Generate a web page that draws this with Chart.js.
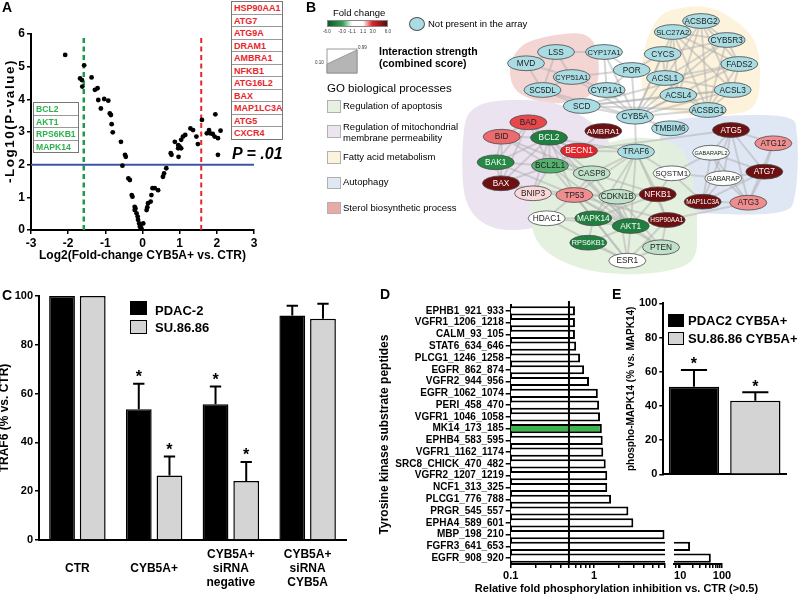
<!DOCTYPE html>
<html><head><meta charset="utf-8"><title>CYB5A figure</title>
<script src="https://cdn.jsdelivr.net/npm/chart.js@4.4.1/dist/chart.umd.min.js"></script>
<style>
html,body{margin:0;padding:0;background:#fff;}
#page{position:relative;width:800px;height:595px;overflow:hidden;background:#fff;font-family:"Liberation Sans",Arial,Helvetica,sans-serif;color:#000;}
#page canvas{position:absolute;}
.tx{position:absolute;white-space:nowrap;line-height:1;}
.pl{font-weight:bold;font-size:14px;}
.genebox{position:absolute;border:1px solid #777;background:#fff;box-sizing:border-box;}
.genebox div{height:11.5px;line-height:12px;border-bottom:1px solid #999;font-weight:bold;padding-left:2px;white-space:nowrap;overflow:hidden;}
.genebox div:last-child{border-bottom:none;}
.sw{position:absolute;box-sizing:border-box;border:1px solid #b0b0b0;width:14px;height:12.5px;left:327px;}
.box{position:absolute;box-sizing:border-box;}
.tiny{position:absolute;font-size:4.5px;line-height:1;transform:translateX(-50%);color:#333;white-space:nowrap;}
.rot{position:absolute;width:0;height:0;}
.rot span{position:absolute;left:0;top:0;white-space:nowrap;line-height:1;transform:translate(-50%,-50%) rotate(-90deg);}
</style></head>
<body><div id="page">
<canvas id="cA" width="275" height="270" style="left:0px;top:0px"></canvas>
<canvas id="cB" width="345" height="280" style="left:455px;top:0px"></canvas>
<canvas id="cC" width="360" height="310" style="left:0px;top:285px"></canvas>
<canvas id="cD1" width="300" height="305" style="left:370px;top:290px"></canvas>
<canvas id="cD2" width="70" height="305" style="left:668px;top:290px"></canvas>
<canvas id="cE" width="200" height="195" style="left:600px;top:290px"></canvas>

<!-- panel letters -->
<div class="tx pl" style="left:2px;top:0px">A</div>
<div class="tx pl" style="left:306px;top:0px">B</div>
<div class="tx pl" style="left:2px;top:288px">C</div>
<div class="tx pl" style="left:380px;top:287px">D</div>
<div class="tx pl" style="left:612px;top:287px">E</div>

<!-- panel A annotations -->
<div class="rot" style="left:10px;top:121px;"><span style="font-size:13.5px;font-weight:bold;letter-spacing:1.5px;">-Log10(P-value)</span></div>
<div id="upBox" class="genebox" style="left:231px;top:1px;width:52px;"></div>
<div id="downBox" class="genebox" style="left:33px;top:102px;width:46px;"></div>
<div class="tx" style="left:232px;top:146px;font-size:16px;font-weight:bold;font-style:italic;">P = .01</div>

<!-- panel B legend -->
<div class="tx" style="left:333px;top:7.5px;font-size:9.5px;">Fold change</div>
<div class="box" style="left:327px;top:20px;width:61px;height:7px;border:0.5px solid #888;background:linear-gradient(to right,#0b5a2b 0%,#35a153 25%,#ffffff 40.8%,#ffffff 59.2%,#e3262b 75%,#5a0d0d 100%);"></div>
<div id="foldTicks"></div>
<div class="box" style="left:409px;top:17px;width:16px;height:14px;border:1px solid #555;border-radius:50%;background:#a9dce3;"></div>
<div class="tx" style="left:428px;top:19.3px;font-size:9.5px;">Not present in the array</div>
<svg style="position:absolute;left:300px;top:44px;" width="70" height="35">
  <rect x="27" y="5" width="30" height="24" fill="#fff" stroke="#9a9a9a" stroke-width="1"/>
  <polygon points="27,20 57,6 57,29 27,29" fill="#b5b5b5" stroke="#8a8a8a" stroke-width="0.8"/>
</svg>
<div class="tx" style="left:358px;top:46px;font-size:4.5px;color:#333;">0.99</div>
<div class="tx" style="left:315px;top:61px;font-size:4.5px;color:#333;">0.10</div>
<div class="tx" style="left:379px;top:45.5px;font-size:10.5px;font-weight:bold;">Interaction strength</div>
<div class="tx" style="left:379px;top:57.5px;font-size:10.5px;font-weight:bold;">(combined score)</div>
<div class="tx" style="left:327px;top:83px;font-size:11.5px;">GO biological processes</div>
<div class="sw" style="top:100px;background:#e6f1e2;"></div>
<div class="tx" style="left:343px;top:100.5px;font-size:9.5px;">Regulation of apoptosis</div>
<div class="sw" style="top:125px;background:#ece4ef;"></div>
<div class="tx" style="left:343px;top:122px;font-size:9.5px;">Regulation of mitochondrial</div>
<div class="tx" style="left:343px;top:133px;font-size:9.5px;">membrane permeability</div>
<div class="sw" style="top:151px;background:#fcf3dc;"></div>
<div class="tx" style="left:343px;top:151.5px;font-size:9.5px;">Fatty acid metabolism</div>
<div class="sw" style="top:176.5px;background:#e0e8f4;"></div>
<div class="tx" style="left:343px;top:177px;font-size:9.5px;">Autophagy</div>
<div class="sw" style="top:201.5px;background:#e9a9a7;"></div>
<div class="tx" style="left:343px;top:202.5px;font-size:9.5px;">Sterol biosynthetic process</div>

<!-- panel C legend -->
<div class="box" style="left:130px;top:301px;width:17px;height:14px;background:#000;"></div>
<div class="box" style="left:130px;top:320px;width:17px;height:13.5px;background:#d4d4d4;border:1.2px solid #000;"></div>
<div class="tx" style="left:155px;top:303.5px;font-size:13px;font-weight:bold;">PDAC-2</div>
<div class="tx" style="left:155px;top:321px;font-size:13px;font-weight:bold;">SU.86.86</div>

<!-- panel D x title -->
<div class="tx" style="left:616.5px;top:582.5px;font-size:11px;font-weight:bold;transform:translateX(-50%);">Relative fold phosphorylation inhibition vs. CTR (&gt;0.5)</div>

<!-- panel E legend -->
<div class="box" style="left:668px;top:314px;width:15.5px;height:12.5px;background:#000;"></div>
<div class="box" style="left:668px;top:332px;width:15.5px;height:12.5px;background:#d4d4d4;border:1.2px solid #000;"></div>
<div class="tx" style="left:688px;top:313.5px;font-size:13px;font-weight:bold;">PDAC2 CYB5A+</div>
<div class="tx" style="left:688px;top:331.8px;font-size:13px;font-weight:bold;">SU.86.86 CYB5A+</div>
</div>

<script>
// ================= DATA =================
// Panel A: volcano plot
const volcanoLog2FC = [-2.08,-1.57,-1.68,-1.63,-1.62,-1.37,-1.28,-1.21,-1.19,-1.12,-1.03,-0.92,-0.88,-0.85,-0.83,-0.80,-0.58,-0.47,-0.45,-0.54,-0.38,-0.34,-0.29,-0.27,-0.21,-0.21,-0.16,-0.13,-0.12,-0.09,-0.07,-0.03,0.02,0.11,0.15,0.22,0.24,0.27,0.33,0.42,0.55,0.58,0.64,0.78,0.76,0.87,0.96,0.96,1.00,1.04,1.04,1.09,1.15,1.29,1.36,1.45,1.49,1.60,1.79,1.73,1.82,1.89,1.94,1.96,2.03,2.10,2.03,0.97,-0.19,-0.05,0.13];
const volcanoNegLog10P = [5.36,5.04,4.64,4.59,4.39,4.67,4.29,4.34,3.98,3.72,4.01,3.96,3.57,3.52,3.24,2.99,2.70,2.30,2.24,1.97,1.58,1.53,1.07,1.02,0.71,0.61,0.51,0.41,0.31,0.20,0.10,0.05,0.20,0.61,0.82,0.87,1.07,1.28,1.28,1.22,1.63,1.73,1.89,2.30,2.35,2.70,2.60,2.50,2.55,2.50,2.76,2.86,2.91,3.11,3.06,2.86,2.63,3.37,3.06,2.96,2.96,2.94,2.86,3.54,2.81,3.04,2.30,2.24,0.66,0.15,0.70];
const log2FoldCut = 1.58;
const negLog10PCut = 2;
const upGenes = ['HSP90AA1','ATG7','ATG9A','DRAM1','AMBRA1','NFKB1','ATG16L2','BAX','MAP1LC3A','ATG5','CXCR4'];
const downGenes = ['BCL2','AKT1','RPS6KB1','MAPK14'];

// Panel B: interaction network
const nodeNames = ['ACSBG2','SLC27A2','CYB5R3','LSS','CYP17A1','CYCS','FADS2','MVD','POR','CYP51A1','ACSL1','SC5DL','CYP1A1','ACSL3','ACSL4','SCD','ACSBG1','CYB5A','BAD','TMBIM6','ATG5','AMBRA1','BID','BCL2','ATG12','BECN1','TRAF6','GABARAPL2','BAK1','BCL2L1','CASP8','SQSTM1','ATG7','GABARAP','BAX','BNIP3','TP53','CDKN1B','NFKB1','MAP1LC3A','ATG3','HDAC1','MAPK14','AKT1','HSP90AA1','RPS6KB1','PTEN','ESR1'];
const nodeX = [701,672.7,726.7,556,604,662.7,739.3,526,631.7,571.7,665,542.5,606.7,732.7,678.3,581.7,707.7,635,528.3,670,731,603.3,501.7,549,773.3,579,636,711,495.7,550,591.7,671.7,764.3,723.3,501,533,574.3,617.3,657.7,702.7,748.3,546.7,593.3,630.7,666.7,588.3,661,627.3];
const nodeY = [21,32,40,52,52,54,64,63.3,70,77,78,90,90,90,95,106,110,116.7,122.3,128.3,130,131,136.7,137.7,143.3,150.7,151.7,152.7,162.3,165.7,173.3,173.3,171.7,178.3,183.3,193.3,195,196.7,194.3,201.7,202.7,218.3,218.3,226,220,242.7,247.3,260.7];
const nodeFoldChange = [null,null,null,null,null,null,null,null,null,null,null,null,null,null,null,null,null,null,2.7,null,5.6,5.6,2.4,-4.5,2.1,3.0,null,-1.2,-4.0,-2.7,-1.7,1.0,5.6,-1.15,5.6,1.45,2.1,-1.7,5.6,5.6,2.1,1.0,-4.5,-4.5,5.6,-4.5,-1.7,1.0];
const networkEdges = ('MVD-LSS,MVD-CYP51A1,MVD-SC5DL,LSS-CYP51A1,LSS-SC5DL,CYP51A1-SC5DL,LSS-CYP17A1,CYP51A1-POR,CYP51A1-CYB5A,SC5DL-CYB5A,SC5DL-SCD,CYB5A-CYP17A1,CYB5A-POR,CYB5A-CYP1A1,CYB5A-SCD,CYB5A-TMBIM6,CYB5A-TRAF6,CYB5A-ACSL1,CYB5A-ACSL4,CYB5A-ACSBG1,CYB5A-ACSL3,CYB5A-FADS2,CYB5A-CYB5R3,CYB5A-CYCS,CYB5A-SLC27A2,CYP17A1-POR,POR-CYP1A1,CYP17A1-CYP1A1,CYP1A1-CYP51A1,POR-CYCS,SCD-FADS2,SCD-ACSL3,SCD-ACSBG1,SCD-ACSL4,' +
 'ACSBG2-SLC27A2,ACSBG2-CYB5R3,ACSBG2-ACSL1,ACSBG2-ACSL4,ACSBG2-ACSL3,ACSBG2-ACSBG1,ACSBG2-FADS2,SLC27A2-ACSL1,SLC27A2-ACSL4,SLC27A2-ACSL3,SLC27A2-ACSBG1,SLC27A2-CYB5R3,SLC27A2-FADS2,CYB5R3-FADS2,CYB5R3-ACSL1,CYB5R3-ACSBG1,CYB5R3-CYCS,CYCS-ACSL1,FADS2-ACSL3,FADS2-ACSBG1,FADS2-ACSL1,ACSL1-ACSL4,ACSL1-ACSL3,ACSL1-ACSBG1,ACSL4-ACSL3,ACSL4-ACSBG1,ACSL3-ACSBG1,' +
 'TRAF6-BECN1,TRAF6-CASP8,TRAF6-SQSTM1,TRAF6-NFKB1,TRAF6-AKT1,TRAF6-CDKN1B,TRAF6-MAPK14,TRAF6-TP53,TRAF6-HSP90AA1,TRAF6-BCL2,AKT1-MAPK14,AKT1-CDKN1B,AKT1-NFKB1,AKT1-HSP90AA1,AKT1-PTEN,AKT1-ESR1,AKT1-RPS6KB1,AKT1-TP53,AKT1-CASP8,AKT1-BCL2,AKT1-BAD,AKT1-BCL2L1,AKT1-HDAC1,MAPK14-TP53,MAPK14-HDAC1,MAPK14-RPS6KB1,MAPK14-ESR1,MAPK14-CDKN1B,MAPK14-NFKB1,TP53-HDAC1,TP53-CDKN1B,TP53-BCL2,TP53-BAX,TP53-BAK1,TP53-BCL2L1,TP53-ESR1,TP53-PTEN,TP53-CASP8,TP53-NFKB1,TP53-HSP90AA1,TP53-BNIP3,HDAC1-ESR1,ESR1-PTEN,ESR1-HSP90AA1,HSP90AA1-NFKB1,HSP90AA1-PTEN,HSP90AA1-ATG3,NFKB1-CDKN1B,CDKN1B-ESR1,CDKN1B-PTEN,CASP8-BCL2,CASP8-BID,CASP8-NFKB1,CASP8-BCL2L1,BECN1-BCL2,BECN1-BCL2L1,BECN1-AMBRA1,NFKB1-SQSTM1,RPS6KB1-ESR1,BECN1-ATG5,' +
 'BAD-BID,BAD-BCL2,BAD-BCL2L1,BAD-BAK1,BAD-BAX,BID-BCL2,BID-BAK1,BID-BAX,BID-BCL2L1,BAK1-BCL2,BAK1-BCL2L1,BAK1-BAX,BAX-BCL2,BAX-BCL2L1,BAX-BNIP3,BNIP3-BCL2,BNIP3-BCL2L1,BCL2-BCL2L1,BCL2-BECN1,' +
 'ATG5-ATG12,ATG5-ATG7,ATG5-GABARAPL2,ATG5-GABARAP,ATG5-MAP1LC3A,ATG5-ATG3,ATG12-ATG7,ATG12-ATG3,ATG7-ATG3,ATG7-GABARAP,ATG7-GABARAPL2,ATG7-MAP1LC3A,ATG3-MAP1LC3A,ATG3-GABARAP,ATG3-GABARAPL2,GABARAP-GABARAPL2,MAP1LC3A-SQSTM1,GABARAP-SQSTM1,GABARAPL2-SQSTM1,MAP1LC3A-GABARAPL2,MAP1LC3A-GABARAP').split(',').map(s => s.split('-'));
const foldLegendTicks = [-6.0,-3.0,-1.1,1.1,3.0,6.0];

// Panel C: TRAF6 levels
const groupsC = [['CTR'],['CYB5A+'],['CYB5A+','siRNA','negative'],['CYB5A+','siRNA','CYB5A']];
const traf6PDAC2 = [100, 53.6, 55.6, 92.0];
const traf6SU8686 = [100, 26.4, 24.2, 90.7];
const errPDAC2 = [0, 10.4, 7.3, 4.0];
const errSU8686 = [0, 7.8, 7.8, 6.1];
const sigPDAC2 = [false, true, true, false];
const sigSU8686 = [false, true, true, false];

// Panel D: kinase substrate peptides
const peptides = ['EPHB1_921_933','VGFR1_1206_1218','CALM_93_105','STAT6_634_646','PLCG1_1246_1258','EGFR_862_874','VGFR2_944_956','EGFR_1062_1074','PERI_458_470','VGFR1_1046_1058','MK14_173_185','EPHB4_583_595','VGFR1_1162_1174','SRC8_CHICK_470_482','VGFR2_1207_1219','NCF1_313_325','PLCG1_776_788','PRGR_545_557','EPHA4_589_601','MBP_198_210','FGFR3_641_653','EGFR_908_920'];
const foldInhibition = [0.59,0.59,0.59,0.61,0.68,0.76,0.87,1.11,1.15,1.18,1.24,1.27,1.29,1.38,1.44,1.44,1.60,2.58,2.96,7.0,17.2,54];
const highlightPeptide = 'MK14_173_185';
const inhibitionCut = 0.5;
const axisBreakD = 7.1;

// Panel E: phospho-MAPK14
const groupsE = ['PDAC2 CYB5A+','SU.86.86 CYB5A+'];
const phosphoMAPK14 = [51.2, 43.0];
const errPhospho = [9.8, 5.0];
const sigPhospho = [true, true];

// ================= SETUP =================
const FONT = '"Liberation Sans", Arial, Helvetica, sans-serif';
Chart.defaults.font.family = FONT;
Chart.defaults.color = '#000';
Chart.defaults.animation = false;
Chart.defaults.responsive = false;
Chart.defaults.plugins.legend.display = false;
Chart.defaults.plugins.tooltip.enabled = false;

// HTML gene lists
function fillBox(id, genes, color, size){
  const el = document.getElementById(id);
  genes.forEach(g => { const d = document.createElement('div'); d.textContent = g; d.style.color = color; d.style.fontSize = size + 'px'; el.appendChild(d); });
}
fillBox('upBox', upGenes, '#e8262b', 9);
fillBox('downBox', downGenes, '#2bb24c', 8.6);
(function(){
  const host = document.getElementById('foldTicks');
  foldLegendTicks.forEach(v => { const d = document.createElement('div'); d.className = 'tiny'; d.textContent = v.toFixed(1); d.style.left = (327 + (v + 6) / 12 * 61) + 'px'; d.style.top = '29.5px'; host.appendChild(d); });
})();

const axisGrid = {drawOnChartArea:false, color:'#000', lineWidth:1.5, tickLength:4};
const axisBorder = {color:'#000', width:2};

function errorBars(errors, sig, o){
  return {id:'errbars', afterDatasetsDraw(chart){
    const ctx = chart.ctx, ys = chart.scales.y;
    errors.forEach((errs, di) => {
      const meta = chart.getDatasetMeta(di); const vals = chart.data.datasets[di].data;
      meta.data.forEach((bar, i) => {
        let top = bar.y; const e = errs[i];
        ctx.save(); ctx.strokeStyle = '#000'; ctx.lineWidth = o.lw;
        if (e > 0) {
          top = ys.getPixelForValue(vals[i] + e); const hw = bar.width * o.cap;
          ctx.beginPath(); ctx.moveTo(bar.x, bar.y); ctx.lineTo(bar.x, top);
          ctx.moveTo(bar.x - hw, top); ctx.lineTo(bar.x + hw, top); ctx.stroke();
        }
        if (sig[di][i]) {
          ctx.fillStyle = '#000'; ctx.font = 'bold ' + o.star + 'px ' + FONT;
          ctx.textAlign = 'center'; ctx.textBaseline = 'alphabetic';
          ctx.fillText('*', bar.x, top - o.gap);
        }
        ctx.restore();
      });
    });
  }};
}

// ================= PANEL A =================
new Chart(document.getElementById('cA'), {
  type:'scatter',
  data:{datasets:[
    {data: volcanoLog2FC.map((x, i) => ({x, y: volcanoNegLog10P[i]})), backgroundColor:'#000', borderColor:'#000', pointRadius:2.4, borderWidth:0, order:0},
    {type:'line', data:[{x:-log2FoldCut, y:0},{x:-log2FoldCut, y:5.9}], borderColor:'#1e9a4b', borderWidth:2.5, borderDash:[5,3.5], pointRadius:0, order:2},
    {type:'line', data:[{x:log2FoldCut, y:0},{x:log2FoldCut, y:5.9}], borderColor:'#e8262b', borderWidth:2, borderDash:[5,3.5], pointRadius:0, order:2},
    {type:'line', data:[{x:-3, y:negLog10PCut},{x:3, y:negLog10PCut}], borderColor:'#3a56a5', borderWidth:2, pointRadius:0, order:1}
  ]},
  options:{
    layout:{padding:{left:0, top:34, right:21, bottom:0}},
    scales:{
      x:{type:'linear', min:-3, max:3, ticks:{stepSize:1, font:{size:12, weight:'bold'}, padding:2}, grid:axisGrid, border:axisBorder,
         title:{display:true, text:'Log2(Fold-change CYB5A+ vs. CTR)', font:{size:12, weight:'bold'}, padding:{top:0, bottom:7}},
         afterFit:s => { s.height = 40; }},
      y:{type:'linear', min:0, max:6, ticks:{stepSize:1, font:{size:12, weight:'bold'}, padding:2}, grid:axisGrid, border:axisBorder,
         title:{display:false},
         afterFit:s => { s.width = 31; }}
    }
  }
});

// ================= PANEL B =================
const foldStops = [[-6,[11,90,43]],[-3,[53,161,83]],[-1.1,[255,255,255]],[1.1,[255,255,255]],[3,[227,38,43]],[6,[90,13,13]]];
function foldColor(v){
  if (v === null) return [169,220,227];
  v = Math.max(-6, Math.min(6, v));
  for (let i = 0; i < foldStops.length - 1; i++) {
    const [a, ca] = foldStops[i], [b, cb] = foldStops[i + 1];
    if (v >= a && v <= b) { const t = (v - a) / (b - a); return ca.map((c, k) => Math.round(c + (cb[k] - c) * t)); }
  }
  return [255,255,255];
}
function smoothClosed(ctx, pts){
  const n = pts.length; ctx.moveTo(pts[0][0], pts[0][1]);
  for (let i = 0; i < n; i++) {
    const p0 = pts[(i - 1 + n) % n], p1 = pts[i], p2 = pts[(i + 1) % n], p3 = pts[(i + 2) % n];
    ctx.bezierCurveTo(p1[0] + (p2[0] - p0[0]) / 6, p1[1] + (p2[1] - p0[1]) / 6, p2[0] - (p3[0] - p1[0]) / 6, p2[1] - (p3[1] - p1[1]) / 6, p2[0], p2[1]);
  }
  ctx.closePath();
}
const networkPlugin = {
  id:'network',
  beforeDatasetsDraw(chart){
    const ctx = chart.ctx, xs = chart.scales.x, ys = chart.scales.y;
    const P = p => [xs.getPixelForValue(p[0]), ys.getPixelForValue(p[1])];
    const regions = [
      ['rgba(243,213,212,1)', [[510,68],[522,46],[550,36],[582,34],[596,48],[598,80],[585,98],[550,103],[518,92]]],
      ['rgba(253,243,220,1)', [[681,8],[717,10],[752,37],[760,73],[753,107],[723,115],[690,115],[647,100],[643,57],[657,20]]],
      ['rgba(236,227,240,1)', [[464,130],[478,106],[515,100],[560,105],[600,130],[612,160],[590,200],[545,225],[495,228],[466,200]]],
      ['rgba(223,231,244,1)', [[668,122],[720,116],[785,117],[797,135],[795,195],[780,212],[720,214],[685,208],[662,175],[660,140]]],
      ['rgba(226,239,220,0.9)', [[575,160],[612,142],[645,138],[678,146],[692,175],[697,225],[690,262],[640,274],[580,268],[540,245],[530,205],[545,175]]]
    ];
    ctx.save();
    regions.forEach(([col, pts]) => { ctx.beginPath(); smoothClosed(ctx, pts.map(P)); ctx.fillStyle = col; ctx.fill(); });
    const pts = chart.getDatasetMeta(0).data;
    const idx = {}; nodeNames.forEach((n, i) => idx[n] = i);
    ctx.strokeStyle = 'rgba(175,175,175,0.5)'; ctx.lineWidth = 2; ctx.lineCap = 'round';
    networkEdges.forEach(([a, b]) => {
      const pa = pts[idx[a]], pb = pts[idx[b]]; if (!pa || !pb) return;
      ctx.beginPath(); ctx.moveTo(pa.x, pa.y); ctx.lineTo(pb.x, pb.y); ctx.stroke();
    });
    ctx.restore();
  },
  afterDatasetsDraw(chart){
    const ctx = chart.ctx; const pts = chart.getDatasetMeta(0).data;
    ctx.save(); ctx.textAlign = 'center'; ctx.textBaseline = 'middle';
    pts.forEach((p, i) => {
      const rgb = foldColor(nodeFoldChange[i]);
      ctx.beginPath(); ctx.ellipse(p.x, p.y, 18.5, 7.4, 0, 0, Math.PI * 2);
      ctx.fillStyle = 'rgb(' + rgb.join(',') + ')'; ctx.fill();
      ctx.lineWidth = 0.8; ctx.strokeStyle = '#4a4a4a'; ctx.stroke();
      let fs = 8.3; ctx.font = fs + 'px ' + FONT;
      const w = ctx.measureText(nodeNames[i]).width;
      if (w > 33) { fs = fs * 33 / w; ctx.font = fs + 'px ' + FONT; }
      const lum = (0.299 * rgb[0] + 0.587 * rgb[1] + 0.114 * rgb[2]) / 255;
      ctx.fillStyle = lum < 0.45 ? '#fff' : '#222';
      ctx.fillText(nodeNames[i], p.x, p.y + 0.5);
    });
    ctx.restore();
  }
};
new Chart(document.getElementById('cB'), {
  type:'scatter',
  data:{datasets:[{data: nodeNames.map((n, i) => ({x: nodeX[i], y: nodeY[i]})), pointRadius:0, pointHoverRadius:0}]},
  options:{
    layout:{padding:0},
    scales:{x:{type:'linear', min:455, max:800, display:false}, y:{type:'linear', min:0, max:280, reverse:true, display:false}}
  },
  plugins:[networkPlugin]
});

// ================= PANEL C =================
new Chart(document.getElementById('cC'), {
  type:'bar',
  data:{labels:groupsC, datasets:[
    {label:'PDAC-2', data:traf6PDAC2, backgroundColor:'#000', borderColor:'#000', borderWidth:1.5},
    {label:'SU.86.86', data:traf6SU8686, backgroundColor:'#d4d4d4', borderColor:'#000', borderWidth:1.5}
  ]},
  options:{
    datasets:{bar:{categoryPercentage:0.8, barPercentage:0.84, borderSkipped:'bottom'}},
    layout:{padding:{left:0, top:11, right:14, bottom:0}},
    scales:{
      x:{ticks:{font:{size:12, weight:'bold', lineHeight:1.15}, padding:15, crossAlign:'center', maxRotation:0, autoSkip:false},
         grid:{display:false, drawTicks:false}, border:axisBorder, afterFit:s => { s.height = 55; }},
      y:{min:0, max:100, ticks:{stepSize:20, font:{size:11, weight:'bold'}, padding:2}, grid:axisGrid, border:axisBorder,
         title:{display:true, text:'TRAF6 (% vs. CTR)', font:{size:12, weight:'bold', lineHeight:1}, padding:{top:-1, bottom:0}},
         afterFit:s => { s.width = 39; }}
    }
  },
  plugins:[errorBars([errPDAC2, errSU8686], [sigPDAC2, sigSU8686], {lw:2, cap:0.22, star:16, gap:2})]
});

// ================= PANEL D =================
function decadeLabel(v){
  const l = Math.log10(v);
  if (Math.abs(l - Math.round(l)) < 1e-9) return v < 1 ? v.toFixed(1) : String(Math.round(v));
  return '';
}
function keepIntegerMantissa(s){
  s.ticks = s.ticks.filter(t => { const m = t.value / Math.pow(10, Math.floor(Math.log10(t.value) + 1e-9)); return Math.abs(m - Math.round(m)) < 1e-6; });
}
const barColorsD = peptides.map(p => p === highlightPeptide ? '#3ab54a' : '#ffffff');
const cutLinePlugin = {
  id:'cutline',
  afterDatasetsDraw(chart){
    const ctx = chart.ctx, x = chart.scales.x.getPixelForValue(inhibitionCut), a = chart.chartArea;
    ctx.save(); ctx.strokeStyle = '#000'; ctx.lineWidth = 2;
    ctx.beginPath(); ctx.moveTo(x, a.top - 4); ctx.lineTo(x, a.bottom); ctx.stroke(); ctx.restore();
  }
};
new Chart(document.getElementById('cD1'), {
  type:'bar',
  data:{labels:peptides, datasets:[{data:foldInhibition, backgroundColor:barColorsD, borderColor:'#000', borderWidth:2, barPercentage:0.78, categoryPercentage:1, clip:0}]},
  options:{
    indexAxis:'y',
    layout:{padding:{left:0, top:15, right:5, bottom:0}},
    scales:{
      x:{type:'logarithmic', min:0.1, max:axisBreakD, afterBuildTicks:keepIntegerMantissa,
         ticks:{autoSkip:false, maxRotation:0, font:{size:11, weight:'bold'}, padding:1, callback:v => decadeLabel(v)},
         grid:axisGrid, border:axisBorder, afterFit:s => { s.height = 31; }},
      y:{ticks:{font:{size:10, weight:'bold'}, padding:2, autoSkip:false}, grid:{drawOnChartArea:false, color:'#000', lineWidth:1.5, tickLength:5, offset:false}, border:axisBorder,
         title:{display:true, text:'Tyrosine kinase substrate peptides', font:{size:12, weight:'bold'}, padding:{top:7, bottom:0}},
         afterFit:s => { s.width = 140.7; }}
    }
  },
  plugins:[cutLinePlugin]
});
new Chart(document.getElementById('cD2'), {
  type:'bar',
  data:{labels:peptides, datasets:[{data:foldInhibition.map(v => v > axisBreakD ? v : null), backgroundColor:barColorsD, borderColor:'#000', borderWidth:2, barPercentage:0.78, categoryPercentage:1}]},
  options:{
    indexAxis:'y',
    layout:{padding:{left:6, top:15, right:16, bottom:0}},
    scales:{
      x:{type:'logarithmic', min:axisBreakD, max:100, afterBuildTicks:keepIntegerMantissa,
         ticks:{autoSkip:false, maxRotation:0, font:{size:11, weight:'bold'}, padding:1, callback:v => decadeLabel(v)},
         grid:axisGrid, border:axisBorder, afterFit:s => { s.height = 31; }},
      y:{display:false}
    }
  }
});

// ================= PANEL E =================
new Chart(document.getElementById('cE'), {
  type:'bar',
  data:{labels:groupsE, datasets:[{data:phosphoMAPK14, backgroundColor:['#000','#d4d4d4'], borderColor:'#000', borderWidth:1.5, categoryPercentage:1, barPercentage:0.82, borderSkipped:'bottom'}]},
  options:{
    layout:{padding:{left:0, top:13.3, right:14, bottom:0}},
    scales:{
      x:{ticks:{display:false}, grid:{display:false, drawTicks:false}, border:axisBorder, afterFit:s => { s.height = 10.7; }},
      y:{min:0, max:100, ticks:{stepSize:20, font:{size:11, weight:'bold'}, padding:2}, grid:axisGrid, border:axisBorder,
         title:{display:true, text:'phospho-MAPK14 (% vs. MAPK14)', font:{size:10, weight:'bold'}, padding:{top:25.7, bottom:0}},
         afterFit:s => { s.width = 63.3; }}
    }
  },
  plugins:[errorBars([errPhospho], [sigPhospho], {lw:2, cap:0.26, star:16, gap:0.5})]
});
</script>
</body></html>
